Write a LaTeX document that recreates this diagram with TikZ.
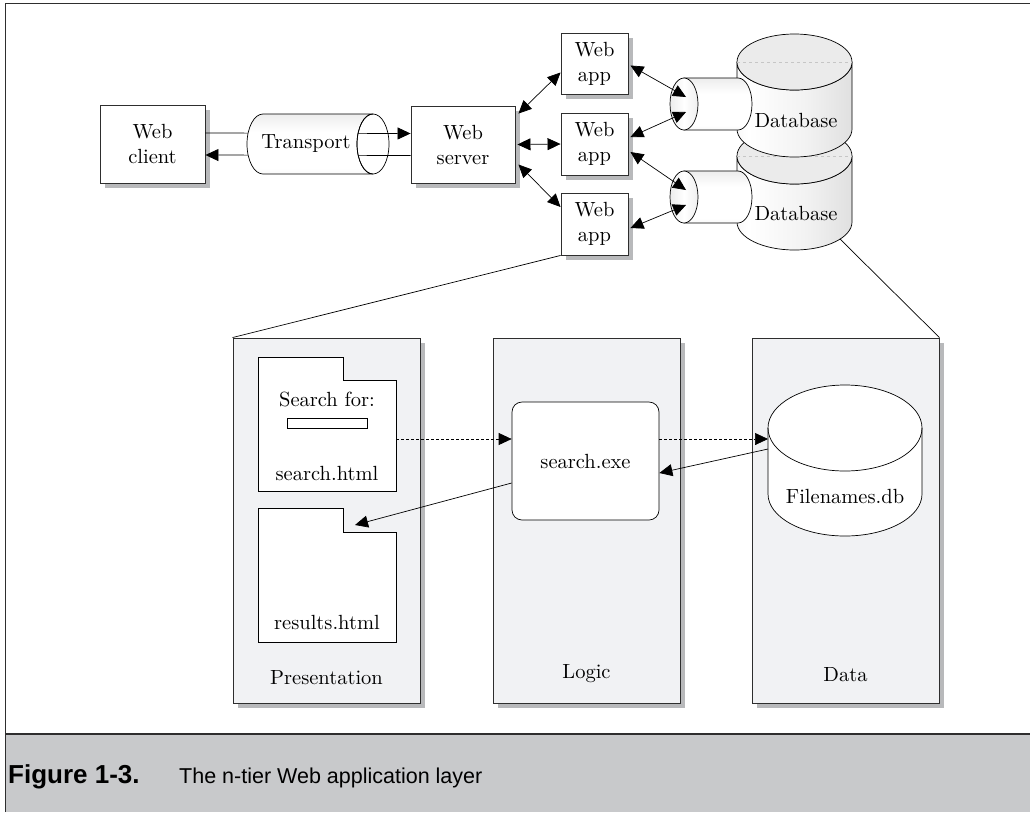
\documentclass[tikz,border=0pt]{standalone}
\usepackage{fontspec}
\setmainfont{lmroman10-regular.otf}
\newfontfamily\capfont{Liberation Sans}
\usetikzlibrary{arrows.meta}

\definecolor{panelfill}{HTML}{F1F2F4}
\definecolor{capgray}{HTML}{C8C9CB}
\definecolor{shadowgray}{HTML}{B8B9BB}
\definecolor{edge}{HTML}{2E2E2E}

\pgfdeclarehorizontalshading{dbbody}{100bp}{color(0bp)=(gray!30); color(30bp)=(white); color(55bp)=(gray!10); color(100bp)=(gray!42)}
\pgfdeclarehorizontalshading{tubeend}{100bp}{color(0bp)=(gray!30); color(50bp)=(white); color(100bp)=(gray!25)}
\pgfdeclareverticalshading{tubev}{100bp}{color(0bp)=(gray!30); color(30bp)=(white); color(60bp)=(white); color(100bp)=(gray!38)}

\begin{document}
\begin{tikzpicture}[x=1pt,y=-1pt,
  font=\fontsize{20.5}{25}\selectfont,
  >={Triangle[length=13pt,width=12pt]},
  box/.style={draw=edge,line width=0.9pt,fill=white,align=center,inner sep=0pt},
  panel/.style={draw=edge,line width=0.9pt,fill=panelfill,inner sep=0pt},
  shadowfill/.style={fill=shadowgray},
  conn/.style={line width=0.7pt,draw=black},
  shapeline/.style={draw=black,line width=0.7pt},
  lbl/.style={inner sep=0pt}
]
\useasboundingbox (0,0) rectangle (1030,812);

% ---------- frame and caption band ----------
\fill[capgray] (5,735) rectangle (1030,812);
\draw[edge,line width=1.6pt] (5,734) -- (1030,734);
\draw[edge,line width=1pt] (5,812) -- (5,3) -- (1030,3);
\node[lbl,anchor=base west,font=\capfont\bfseries\fontsize{26}{28}\selectfont] (figno) at (8,783) {Figure 1-3.};
\node[lbl,anchor=base west,font=\capfont\fontsize{21.5}{28}\selectfont] (figtitle) at (179,783) {The n-tier Web application layer};

% ---------- drop shadows ----------
\fill[shadowfill] (105,110) rectangle (210,188);
\fill[shadowfill] (416,111) rectangle (520,188);
\fill[shadowfill] (566,38) rectangle (633,99);
\fill[shadowfill] (566,118) rectangle (633,180);
\fill[shadowfill] (566,198) rectangle (633,260);
\fill[shadowfill] (238,343) rectangle (425,708);
\fill[shadowfill] (498,343) rectangle (685,708);
\fill[shadowfill] (757,343) rectangle (944,708);

% ---------- top row boxes ----------
\node[box,minimum width=105pt,minimum height=78pt] (client) at (152.5,144) {Web\\client};
\node[box,minimum width=104pt,minimum height=77pt] (server) at (463,144.5) {Web\\server};
\node[box,minimum width=67pt,minimum height=61pt] (app1) at (594.5,63.5) {Web\\app};
\node[box,minimum width=67pt,minimum height=62pt] (app2) at (594.5,144) {Web\\app};
\node[box,minimum width=67pt,minimum height=62pt] (app3) at (594.5,224) {Web\\app};

% client <-> server lines (pass through the transport tube)
\draw[conn,->] ([yshift=11pt]client.east) -- ([yshift=11pt]server.west);
\draw[conn,->] ([yshift=-11pt]server.west) -- ([yshift=-11pt]client.east);

% transport tube
\shade[shading=tubev,shapeline] (373,114) -- (263,114)
  arc[start angle=90,end angle=270,x radius=16pt,y radius=30pt]
  -- (373,174)
  arc[start angle=270,end angle=90,x radius=16pt,y radius=30pt] -- cycle;
\draw[shapeline] (373,144) ellipse [x radius=16pt,y radius=30pt];
\node[lbl] (transport) at (306,144) {Transport};

% server <-> apps
\draw[conn,<->] ([xshift=3pt,yshift=-8pt]server.north east) -- ([yshift=-9pt]app1.west);
\draw[conn,<->] ([xshift=2pt]server.east) -- (app2.west);
\draw[conn,<->] ([xshift=3pt,yshift=-20pt]server.east) -- ([yshift=17pt]app3.west);

% ---------- databases ----------
% lower database
\shade[shading=dbbody,shapeline] (737,156) -- (737,222)
  arc[start angle=180,end angle=360,x radius=57.5pt,y radius=28pt]
  -- (852,156)
  arc[start angle=0,end angle=-180,x radius=57.5pt,y radius=28pt] -- cycle;
\filldraw[fill=gray!16,shapeline] (794.5,156) ellipse [x radius=57.5pt,y radius=28pt];
\draw[gray!45,dashed,line width=0.4pt] (737,156) -- (852,156);
\node[lbl] (db2) at (796,213) {Database};
% lower small tube
\shade[shading=tubev,shapeline] (684,171) -- (738,171)
  arc[start angle=90,end angle=-90,x radius=14pt,y radius=26pt]
  -- (684,223) -- cycle;
\shade[shading=tubeend,shapeline] (684,197) ellipse [x radius=14pt,y radius=26pt];
\coordinate (c2) at (684,197);

% upper database
\shade[shading=dbbody,shapeline] (737,62) -- (737,129)
  arc[start angle=180,end angle=360,x radius=57.5pt,y radius=28pt]
  -- (852,62)
  arc[start angle=0,end angle=-180,x radius=57.5pt,y radius=28pt] -- cycle;
\filldraw[fill=gray!16,shapeline] (794.5,62) ellipse [x radius=57.5pt,y radius=28pt];
\draw[gray!45,dashed,line width=0.4pt] (737,62) -- (852,62);
\node[lbl] (db1) at (796,120) {Database};
% upper small tube
\shade[shading=tubev,shapeline] (684,78) -- (738,78)
  arc[start angle=90,end angle=-90,x radius=14pt,y radius=26pt]
  -- (684,130) -- cycle;
\shade[shading=tubeend,shapeline] (684,104) ellipse [x radius=14pt,y radius=26pt];
\coordinate (c1) at (684,104);

% apps <-> database tubes
\draw[conn,<->] ([xshift=2pt,yshift=-2pt]app1.east) -- ([xshift=2pt,yshift=7pt]c1);
\draw[conn,<->] ([xshift=2pt,yshift=7pt]app2.east) -- ([xshift=2pt,yshift=-8pt]c1);
\draw[conn,<->] ([xshift=2pt,yshift=-8pt]app2.east) -- ([xshift=2pt,yshift=7pt]c2);
\draw[conn,<->] ([xshift=2pt,yshift=-4pt]app3.east) -- ([xshift=2pt,yshift=-8pt]c2);

% ---------- bottom panels ----------
\node[panel,minimum width=187pt,minimum height=365pt] (pres) at (326.5,520.5) {};
\node[panel,minimum width=187pt,minimum height=365pt] (logic) at (586.5,520.5) {};
\node[panel,minimum width=187pt,minimum height=365pt] (data) at (845.5,520.5) {};
\node[lbl,anchor=base] (preslbl) at (326.5,684) {Presentation};
\node[lbl,anchor=base] (logiclbl) at (586.5,678) {Logic};
\node[lbl,anchor=base] (datalbl) at (845.5,681) {Data};

% zoom lines
\coordinate (dbfoot) at (840,239);
\draw[conn] (app3.south west) -- (pres.north west);
\draw[conn] (dbfoot) -- (data.north east);

% search.html document
\filldraw[fill=white,shapeline] (258,357) -- (343,357) -- (343,380) -- (396,380) -- (396,491) -- (258,491) -- cycle;
\node[lbl] (searchfor) at (327,399) {Search for:};
\draw[shapeline,fill=white] (287,418) rectangle (367,428);
\node[lbl] (searchhtml) at (327,473) {search.html};
\coordinate (sdoc) at (396,439);

% results.html document
\filldraw[fill=white,shapeline] (258,508) -- (343,508) -- (343,532) -- (396,532) -- (396,642) -- (258,642) -- cycle;
\node[lbl] (resultshtml) at (327,622) {results.html};
\coordinate (rdoc) at (355,525);

% search.exe
\node[draw=black,line width=0.7pt,fill=white,rounded corners=10pt,minimum width=147pt,minimum height=118pt,inner sep=0pt] (exe) at (585.5,461) {search.exe};

% Filenames.db cylinder
\filldraw[fill=white,shapeline] (768,428) -- (768,494)
  arc[start angle=180,end angle=360,x radius=77pt,y radius=42pt]
  -- (922,428)
  arc[start angle=0,end angle=180,x radius=77pt,y radius=43pt] -- cycle;
\draw[shapeline] (768,428) arc[start angle=180,end angle=360,x radius=77pt,y radius=43pt];
\node[lbl] (fdb) at (845,496) {Filenames.db};
\coordinate (fdbin) at (768,439);
\coordinate (fdbout) at (768,449);

% tier connectors
\draw[conn,dash pattern=on 3pt off 2pt,->] (sdoc) -- (sdoc -| exe.west);
\draw[conn,dash pattern=on 3pt off 2pt,->] (exe.east |- fdbin) -- (fdbin);
\draw[conn,->] (fdbout) -- ([yshift=-12pt]exe.east);
\draw[conn,->] ([yshift=-22pt]exe.west) -- (rdoc);
\end{tikzpicture}
\end{document}
